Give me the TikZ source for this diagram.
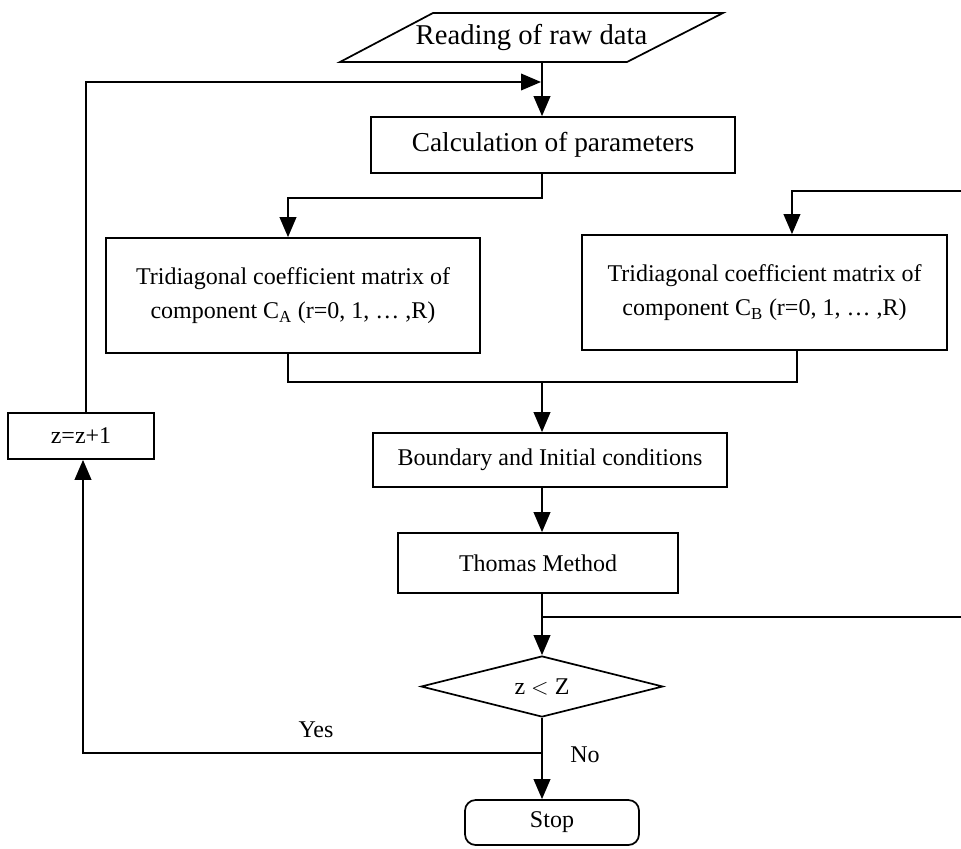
\documentclass[tikz,border=0pt]{standalone}
\usepackage{fontspec}
\setmainfont{Liberation Serif}
\usetikzlibrary{arrows.meta,shapes.geometric,calc}
\begin{document}
\begin{tikzpicture}[x=0.75pt,y=-0.75pt,
  line width=1.3pt,
  box/.style={draw,rectangle,inner sep=0pt,align=center,font=\fontsize{18}{26}\selectfont},
  decision/.style={draw,diamond,aspect=4,inner sep=0pt,font=\fontsize{18}{22}\selectfont},
  term/.style={draw,rectangle,rounded corners=8pt,inner sep=0pt,font=\fontsize{18}{22}\selectfont},
  lbl/.style={inner sep=1pt,font=\fontsize{18}{22}\selectfont},
  arr/.style={-{Triangle[length=15pt,width=12.5pt]}},
]
\useasboundingbox (0,0) rectangle (961,849);

% input parallelogram
\draw (433,13) -- (723,13) -- (627,62) -- (340,62) -- cycle;
\node[inner sep=0pt,minimum width=287.25pt,minimum height=36.75pt,font=\fontsize{21.5}{24}\selectfont] (read) at (531.5,37.5) {Reading of raw data};

\node[box,minimum width=273pt,minimum height=42pt,font=\fontsize{20.5}{24}\selectfont] (calc) at (553,145) {Calculation of parameters};
\node[box,minimum width=280.5pt,minimum height=86.25pt] (CA) at (293,295.5) {Tridiagonal coefficient matrix of\\component C\textsubscript{A} (r=0, 1, \dots\ ,R)};
\node[box,minimum width=273.75pt,minimum height=86.25pt] (CB) at (764.5,292.5) {Tridiagonal coefficient matrix of\\component C\textsubscript{B} (r=0, 1, \dots\ ,R)};
\node[box,minimum width=109.5pt,minimum height=34.5pt] (zbox) at (81,436) {z=z+1};
\node[box,minimum width=265.5pt,minimum height=40.5pt] (bound) at (550,460) {Boundary and Initial conditions};
\node[box,minimum width=210pt,minimum height=45pt] (thomas) at (538,563) {Thomas Method};
\node[decision,minimum width=181.5pt,minimum height=45.75pt] (dec) at (542,686.5) {z $<$ Z};
\node[term,minimum width=130.5pt,minimum height=33.75pt] (stop) at (552,822.5) {Stop};

\node[lbl] (yeslbl) at (316,730) {Yes};
\node[lbl] (nolbl) at (585,755) {No};

\coordinate (trunk) at (542,0);
\coordinate (loop) at (541,82);
\coordinate (splitA) at (542,198);
\coordinate (rightB) at (961,191);
\coordinate (rightT) at (961,617);
\coordinate (merge) at (542,382);
\coordinate (yes) at (542,753);

\draw[arr] (read.south -| trunk) -- (calc.north -| trunk);
\draw[arr] ([xshift=4pt]zbox.north) |- (loop);
\draw[arr] (calc.south -| trunk) -- (splitA) -| ([xshift=-3.75pt]CA.north);
\draw[arr] (rightB) -| ([xshift=20.6pt]CB.north);
\draw ([xshift=-3.75pt]CA.south) |- (merge) -| ([xshift=24.4pt]CB.south);
\draw[arr] (merge) -- (bound.north -| trunk);
\draw[arr] (bound.south -| trunk) -- (thomas.north -| trunk);
\draw[arr] (thomas.south -| trunk) -- (dec.north);
\draw (trunk |- rightT) -- (rightT);
\draw[arr] (dec.south) -- (stop.north -| dec.south);
\draw[arr] (yes) -| ([xshift=1.5pt]zbox.south);
\end{tikzpicture}
\end{document}
